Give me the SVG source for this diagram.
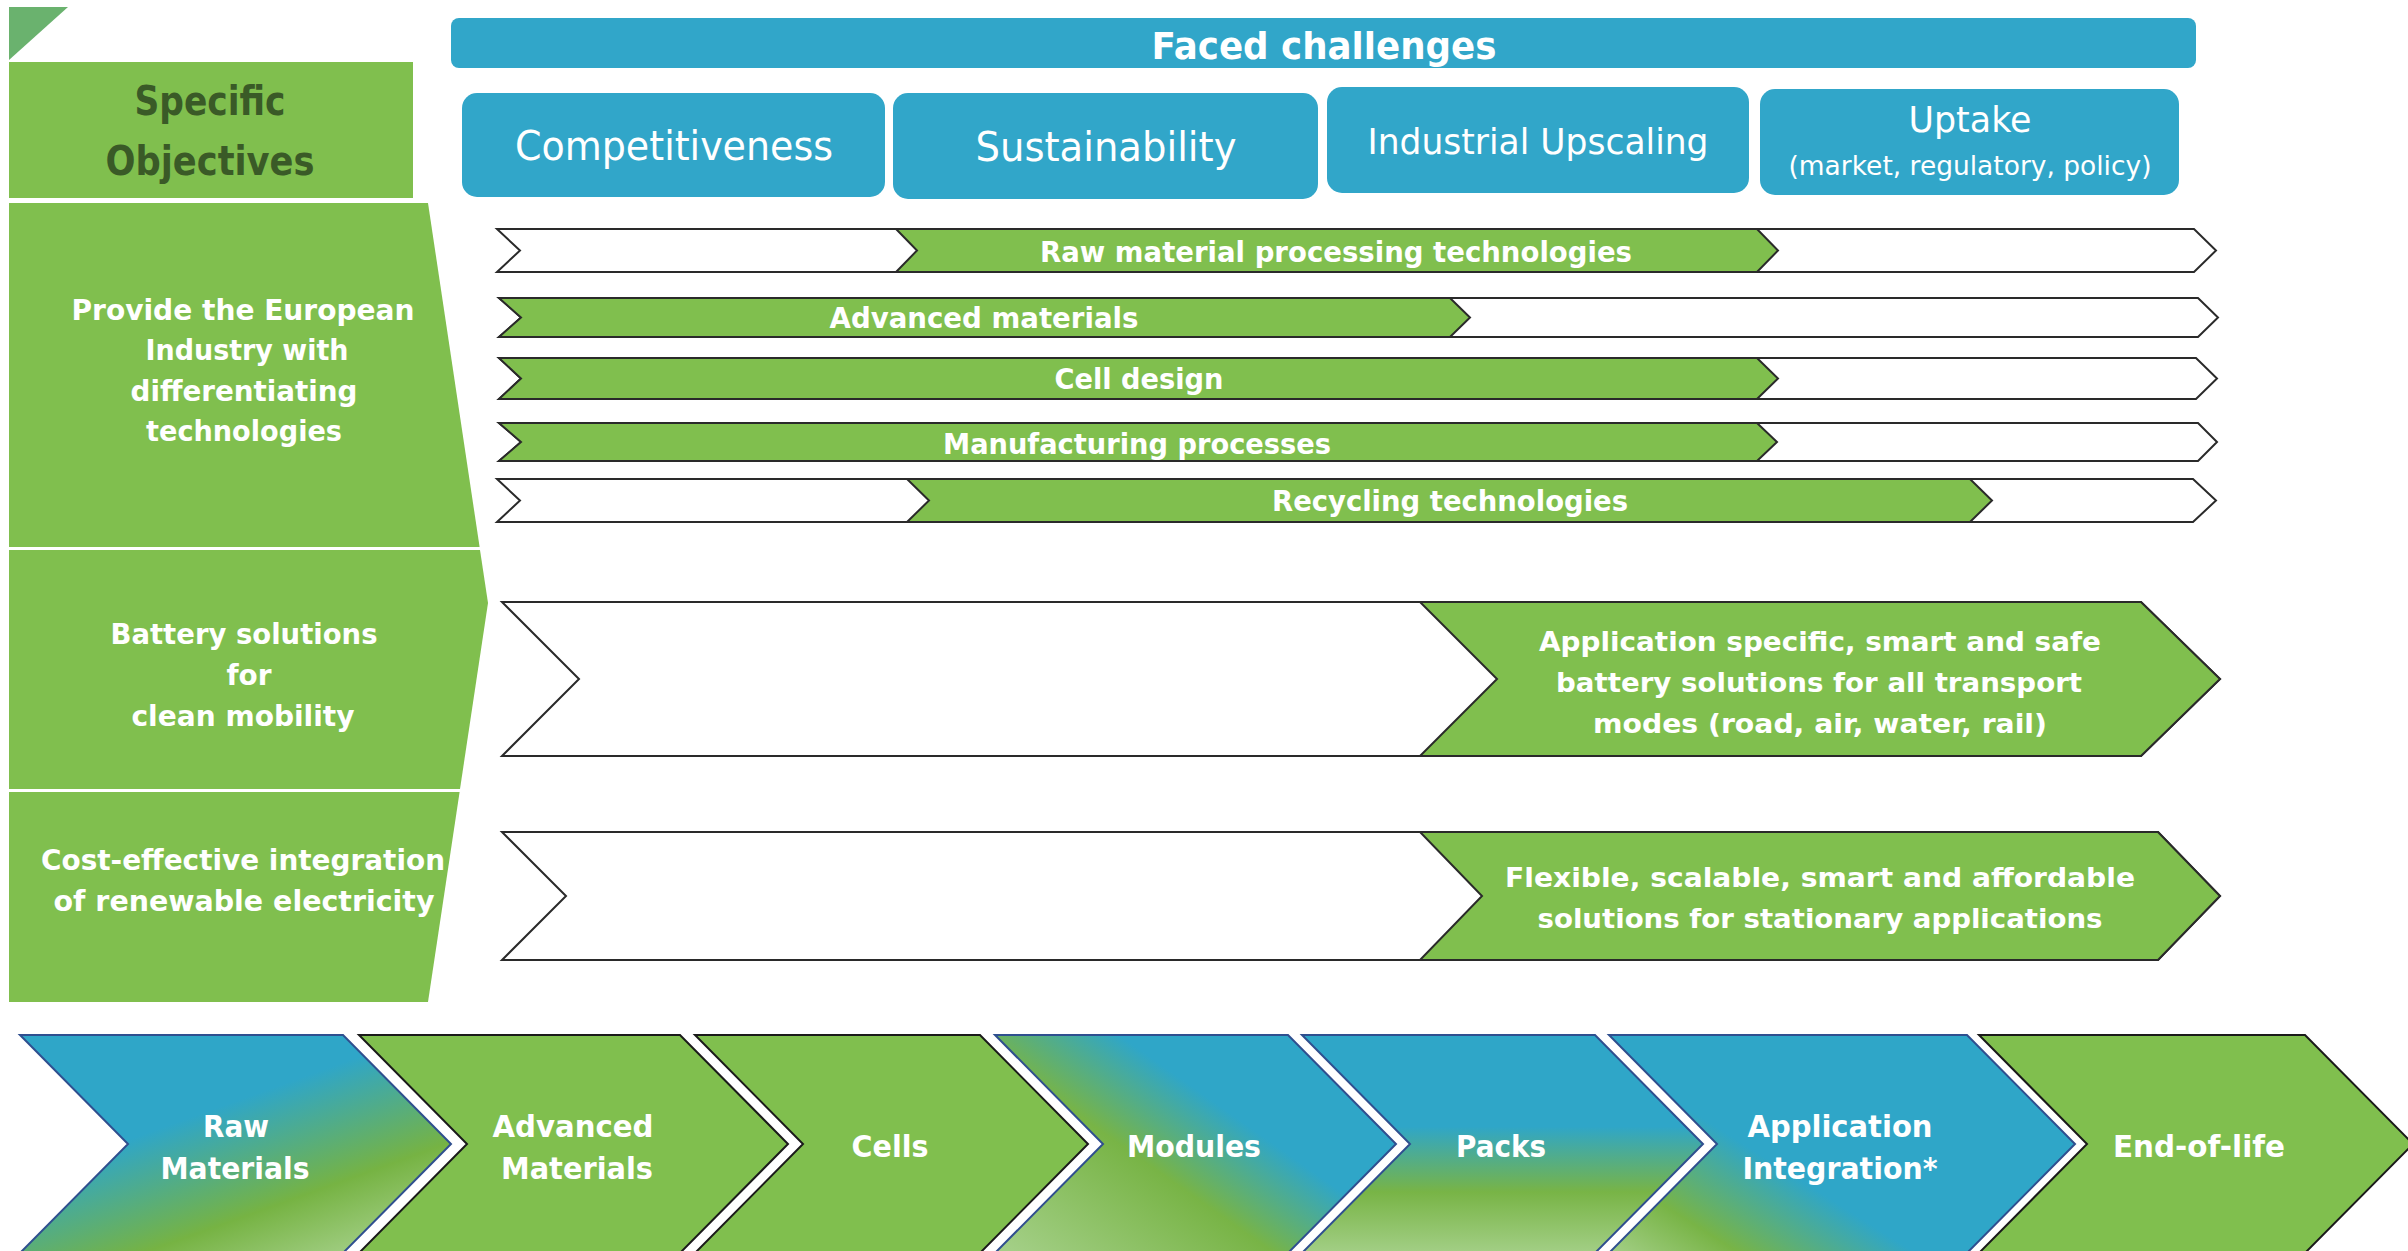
<svg xmlns="http://www.w3.org/2000/svg" width="2408" height="1251" viewBox="0 0 2408 1251">
<style>
.bg{fill:#ffffff}
.g{fill:#80BF4E}
.b{fill:#31A6C9}
.row{stroke:#2a2a2a;stroke-width:2;stroke-linejoin:miter}
.w{fill:#ffffff}
.ol-k{stroke:#1a1a1a;stroke-width:2}
.ol-b{stroke:#2F4F8F;stroke-width:2}
text{font-family:"DejaVu Sans","Liberation Sans",sans-serif;fill:#ffffff}
.bold{font-weight:bold}
.obj{font-size:29px;font-weight:bold}
.bar{font-size:28px;font-weight:bold}
.big{font-size:26px;font-weight:bold}
.vc{font-size:31px;font-weight:bold}
.hd{font-size:40px;font-weight:bold;fill:#3A5A27}
</style>
<defs>
<linearGradient id="grRaw" gradientUnits="userSpaceOnUse" x1="170" y1="1040" x2="260" y2="1290">
<stop offset="0" stop-color="#2FA6C8"/><stop offset="0.3" stop-color="#2FA6C8"/><stop offset="0.72" stop-color="#76B343"/><stop offset="1" stop-color="#A3CF86"/>
</linearGradient>
<linearGradient id="grMod" gradientUnits="userSpaceOnUse" x1="1040" y1="1270" x2="1230" y2="1000">
<stop offset="0" stop-color="#A3CF86"/><stop offset="0.45" stop-color="#78B446"/><stop offset="0.72" stop-color="#2FA6C8"/><stop offset="1" stop-color="#2FA6C8"/>
</linearGradient>
<linearGradient id="grPack" gradientUnits="userSpaceOnUse" x1="0" y1="1035" x2="0" y2="1253">
<stop offset="0" stop-color="#2FA6C8"/><stop offset="0.42" stop-color="#2FA6C8"/><stop offset="0.72" stop-color="#78B446"/><stop offset="1" stop-color="#A3CF86"/>
</linearGradient>
<linearGradient id="grApp" gradientUnits="userSpaceOnUse" x1="1640" y1="1270" x2="1760" y2="1080">
<stop offset="0" stop-color="#A3CF86"/><stop offset="0.3" stop-color="#78B446"/><stop offset="0.72" stop-color="#2FA6C8"/><stop offset="1" stop-color="#2FA6C8"/>
</linearGradient>
</defs>
<rect class="bg" x="0" y="0" width="2408" height="1251"/>

<g id="corner-mark"><polygon points="9,7 68,7 9,60" fill="#6AB26E"/></g>

<g id="specific-objectives">
<rect class="g" x="9" y="62" width="404" height="136"/>
<text class="hd" x="210" y="115" text-anchor="middle" textLength="151" lengthAdjust="spacingAndGlyphs">Specific</text>
<text class="hd" x="210" y="175" text-anchor="middle" textLength="209" lengthAdjust="spacingAndGlyphs">Objectives</text>
</g>

<g id="faced-challenges">
<rect class="b" x="451" y="18" width="1745" height="50" rx="8"/>
<text class="bold" x="1324" y="59" font-size="38" text-anchor="middle" textLength="345" lengthAdjust="spacingAndGlyphs">Faced challenges</text>
</g>

<g id="competitiveness">
<rect class="b" x="462" y="93" width="423" height="104" rx="15"/>
<text x="674" y="160" font-size="41" text-anchor="middle" textLength="318" lengthAdjust="spacingAndGlyphs">Competitiveness</text>
</g>
<g id="sustainability">
<rect class="b" x="893" y="93" width="425" height="106" rx="15"/>
<text x="1106" y="161" font-size="41" text-anchor="middle" textLength="261" lengthAdjust="spacingAndGlyphs">Sustainability</text>
</g>
<g id="industrial-upscaling">
<rect class="b" x="1327" y="87" width="422" height="106" rx="15"/>
<text x="1538" y="154" font-size="35" text-anchor="middle" textLength="341" lengthAdjust="spacingAndGlyphs">Industrial Upscaling</text>
</g>
<g id="uptake">
<rect class="b" x="1760" y="89" width="419" height="106" rx="15"/>
<text x="1970" y="132" font-size="35" text-anchor="middle" textLength="123" lengthAdjust="spacingAndGlyphs">Uptake</text>
<text x="1970" y="175" font-size="26" text-anchor="middle" textLength="363" lengthAdjust="spacingAndGlyphs">(market, regulatory, policy)</text>
</g>

<g id="objective-1">
<polygon class="g" points="9,203 428,203 479.6,547 9,547"/>
<text class="obj" x="243" y="320" text-anchor="middle" textLength="343" lengthAdjust="spacingAndGlyphs">Provide the European</text>
<text class="obj" x="247" y="360" text-anchor="middle" textLength="203" lengthAdjust="spacingAndGlyphs">Industry with</text>
<text class="obj" x="244" y="401" text-anchor="middle" textLength="227" lengthAdjust="spacingAndGlyphs">differentiating</text>
<text class="obj" x="244" y="441" text-anchor="middle" textLength="196" lengthAdjust="spacingAndGlyphs">technologies</text>
</g>
<g id="objective-2">
<polygon class="g" points="9,550 480,550 488,603 460,789 9,789"/>
<text class="obj" x="244" y="644" text-anchor="middle" textLength="267" lengthAdjust="spacingAndGlyphs">Battery solutions</text>
<text class="obj" x="249" y="685" text-anchor="middle" textLength="45" lengthAdjust="spacingAndGlyphs">for</text>
<text class="obj" x="243" y="726" text-anchor="middle" textLength="223" lengthAdjust="spacingAndGlyphs">clean mobility</text>
</g>
<g id="objective-3">
<polygon class="g" points="9,792 459.6,792 428,1002 9,1002"/>
<text class="obj" x="243" y="870" text-anchor="middle" textLength="404" lengthAdjust="spacingAndGlyphs">Cost-effective integration</text>
<text class="obj" x="244" y="911" text-anchor="middle" textLength="381" lengthAdjust="spacingAndGlyphs">of renewable electricity</text>
</g>

<g id="raw-material-processing">
<polygon class="w row" points="497,229 2194,229 2216,250.5 2194,272 497,272 520,250.5"/>
<polygon class="g row" points="896,229 1757,229 1778,250.5 1757,272 896,272 917,250.5"/>
<text class="bar" x="1336" y="262" text-anchor="middle" textLength="592" lengthAdjust="spacingAndGlyphs">Raw material processing technologies</text>
</g>
<g id="advanced-materials">
<polygon class="w row" points="499,298 2198,298 2218,317.5 2198,337 499,337 521,317.5"/>
<polygon class="g row" points="499,298 1450,298 1470,317.5 1450,337 499,337 521,317.5"/>
<text class="bar" x="984" y="328" text-anchor="middle" textLength="309" lengthAdjust="spacingAndGlyphs">Advanced materials</text>
</g>
<g id="cell-design">
<polygon class="w row" points="499,358 2196,358 2217,378.5 2196,399 499,399 521,378.5"/>
<polygon class="g row" points="499,358 1757,358 1778,378.5 1757,399 499,399 521,378.5"/>
<text class="bar" x="1139" y="389" text-anchor="middle" textLength="169" lengthAdjust="spacingAndGlyphs">Cell design</text>
</g>
<g id="manufacturing-processes">
<polygon class="w row" points="499,423 2198,423 2217,442 2198,461 499,461 521,442"/>
<polygon class="g row" points="499,423 1757,423 1777,442 1757,461 499,461 521,442"/>
<text class="bar" x="1137" y="454" text-anchor="middle" textLength="388" lengthAdjust="spacingAndGlyphs">Manufacturing processes</text>
</g>
<g id="recycling-technologies">
<polygon class="w row" points="497,479 2193,479 2216,500.5 2193,522 497,522 520,500.5"/>
<polygon class="g row" points="907,479 1970,479 1992,500.5 1970,522 907,522 929,500.5"/>
<text class="bar" x="1450" y="511" text-anchor="middle" textLength="356" lengthAdjust="spacingAndGlyphs">Recycling technologies</text>
</g>

<g id="mobility-solutions">
<polygon class="w row" points="502,602 2141,602 2220,679 2141,756 502,756 579,679"/>
<polygon class="g row" points="1420,602 2141,602 2220,679 2141,756 1420,756 1497,679"/>
<text class="big" x="1820" y="651" text-anchor="middle" textLength="562" lengthAdjust="spacingAndGlyphs">Application specific, smart and safe</text>
<text class="big" x="1819" y="692" text-anchor="middle" textLength="526" lengthAdjust="spacingAndGlyphs">battery solutions for all transport</text>
<text class="big" x="1820" y="733" text-anchor="middle" textLength="454" lengthAdjust="spacingAndGlyphs">modes (road, air, water, rail)</text>
</g>
<g id="stationary-solutions">
<polygon class="w row" points="502,832 2158,832 2220,896 2158,960 502,960 566,896"/>
<polygon class="g row" points="1420,832 2158,832 2220,896 2158,960 1420,960 1482,896"/>
<text class="big" x="1820" y="887" text-anchor="middle" textLength="630" lengthAdjust="spacingAndGlyphs">Flexible, scalable, smart and affordable</text>
<text class="big" x="1820" y="928" text-anchor="middle" textLength="565" lengthAdjust="spacingAndGlyphs">solutions for stationary applications</text>
</g>

<g id="vc-raw-materials">
<polygon class="ol-b" fill="url(#grRaw)" points="20,1035 343,1035 451,1144 343,1253 20,1253 128,1144"/>
<text class="vc" x="236" y="1137" text-anchor="middle" textLength="66" lengthAdjust="spacingAndGlyphs">Raw</text>
<text class="vc" x="235" y="1179" text-anchor="middle" textLength="149" lengthAdjust="spacingAndGlyphs">Materials</text>
</g>
<g id="vc-advanced-materials">
<polygon class="g ol-k" points="359,1035 680,1035 788,1144 680,1253 359,1253 467,1144"/>
<text class="vc" x="573" y="1137" text-anchor="middle" textLength="161" lengthAdjust="spacingAndGlyphs">Advanced</text>
<text class="vc" x="577" y="1179" text-anchor="middle" textLength="152" lengthAdjust="spacingAndGlyphs">Materials</text>
</g>
<g id="vc-cells">
<polygon class="g ol-k" points="695,1035 980,1035 1088,1144 980,1253 695,1253 803,1144"/>
<text class="vc" x="890" y="1157" text-anchor="middle" textLength="77" lengthAdjust="spacingAndGlyphs">Cells</text>
</g>
<g id="vc-modules">
<polygon class="ol-b" fill="url(#grMod)" points="995,1035 1288,1035 1396,1144 1288,1253 995,1253 1103,1144"/>
<text class="vc" x="1194" y="1157" text-anchor="middle" textLength="134" lengthAdjust="spacingAndGlyphs">Modules</text>
</g>
<g id="vc-packs">
<polygon class="ol-b" fill="url(#grPack)" points="1302,1035 1595,1035 1703,1144 1595,1253 1302,1253 1410,1144"/>
<text class="vc" x="1501" y="1157" text-anchor="middle" textLength="90" lengthAdjust="spacingAndGlyphs">Packs</text>
</g>
<g id="vc-application-integration">
<polygon class="ol-b" fill="url(#grApp)" points="1609,1035 1967,1035 2075,1144 1967,1253 1609,1253 1717,1144"/>
<text class="vc" x="1840" y="1137" text-anchor="middle" textLength="185" lengthAdjust="spacingAndGlyphs">Application</text>
<text class="vc" x="1840" y="1179" text-anchor="middle" textLength="195" lengthAdjust="spacingAndGlyphs">Integration*</text>
</g>
<g id="vc-end-of-life">
<polygon class="g ol-k" points="1979,1035 2305,1035 2413,1144 2305,1253 1979,1253 2087,1144"/>
<text class="vc" x="2199" y="1157" text-anchor="middle" textLength="172" lengthAdjust="spacingAndGlyphs">End-of-life</text>
</g>

<g id="connectors"></g>
</svg>
